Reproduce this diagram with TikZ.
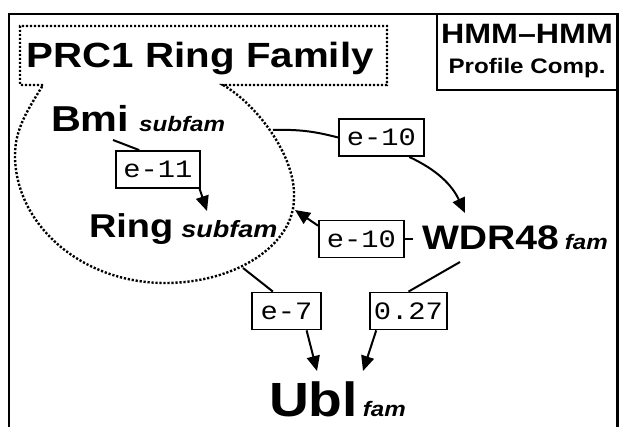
\documentclass[tikz,border=0pt]{standalone}
\usepackage{fontspec}
\setmainfont{Liberation Sans}[FakeStretch=1.15]
\setmonofont{Liberation Mono}[FakeStretch=1.15]
\usetikzlibrary{arrows.meta}

\tikzset{
	famline/.style={line width=2.4pt, dash pattern=on 2.2pt off 1.8pt},
	lbl/.style={draw, line width=1.8pt, inner sep=0pt, minimum height=37pt, font=\ttfamily\fontsize{25}{25}\selectfont},
	famname/.style={anchor=base west, inner sep=0pt, font=\bfseries},
}
\newcommand{\famtext}[5]{{\fontsize{#1}{#1}\selectfont #2}\hspace{#3pt}{\fontsize{#4}{#4}\selectfont\itshape #5}}

\begin{document}
\begin{tikzpicture}[x=1pt, y=-1pt, >={Triangle[length=15pt,width=13pt]}, line width=2pt]
	\useasboundingbox (0,0) rectangle (619,427);
	%frame
	\draw [line width=2.2pt] (9,427) -- (9,14) -- (617.5,14) -- (617.5,427);
	\draw (437,14) rectangle (617.5,90);
	\node (hmm) [anchor=base, font=\bfseries\fontsize{28}{28}\selectfont] at (527,44) {HMM--HMM};
	\node (comp) [anchor=base, font=\bfseries\fontsize{21}{21}\selectfont] at (527,74) {Profile Comp.};
	%PRC1 family
	\draw [famline] (43,85) -- (20,85) -- (20,26) -- (387,26) -- (387,85) -- (223,85)
		.. controls (255,103) and (296,155) .. (294,198)
		.. controls (294,245) and (236,283) .. (165,283)
		.. controls (82,283) and (15,225) .. (15,155)
		.. controls (15,128) and (29,108) .. (43,85);
	\node (prc) [famname, font=\bfseries\fontsize{35}{35}\selectfont] at (26,68) {PRC1 Ring Family};
	\node (bmi) [famname] at (50,132) {\famtext{36}{Bmi}{10}{21}{subfam}};
	\node (ring) [famname] at (88,238) {\famtext{33}{Ring}{8}{23.5}{subfam}};
	\node (wdr) [famname] at (421,250) {\famtext{34}{WDR48}{6}{21}{fam}};
	\node (ubl) [famname] at (268,417) {\famtext{48}{Ubl}{5}{21}{fam}};
	%scores
	\node (e11) [lbl, minimum width=84pt] at (158,169.5) {e-11};
	\node (e10a) [lbl, minimum width=85pt] at (381.5,137.5) {e-10};
	\node (e10b) [lbl, minimum width=85pt] at (361.5,239) {e-10};
	\node (e7) [lbl, minimum width=69pt] at (286.5,311) {e-7};
	\node (o27) [lbl, minimum width=77pt] at (408.5,311) {0.27};
	%ends
	\coordinate (bmiS) at (113,140);
	\coordinate (ringN) at (207,211);
	\coordinate (prcE) at (273,130);
	\coordinate (prcR) at (295,210);
	\coordinate (prcS) at (243,268);
	\coordinate (wdrN) at (465,213);
	\coordinate (wdrW) at (413,239);
	\coordinate (wdrS) at (460,262);
	\coordinate (ublL) at (317,371);
	\coordinate (ublR) at (363,371);
	%1
	\draw (bmiS) -- (e11.134);
	\draw [->] (e11.-25) -- (ringN);
	%2
	\draw (prcE) to [bend left=8] (e10a.west);
	\draw [->] (e10a.-35) to [bend left=20] (wdrN);
	%3
	\draw (wdrW) -- (e10b.east);
	\draw [->] (e10b.163) -- (prcR);
	%4
	\draw (prcS) -- (e7.125);
	\draw [->] (e7.-44) -- (ublL);
	\draw (wdrS) -- (o27.north);
	\draw [->] (o27.-149) -- (ublR);
\end{tikzpicture}
\end{document}
